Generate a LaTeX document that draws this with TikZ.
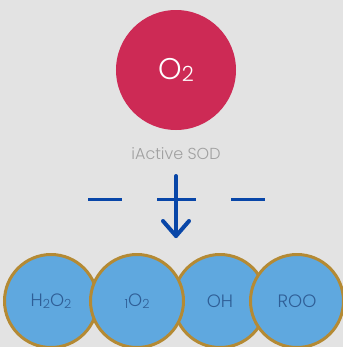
\documentclass[tikz,border=0pt]{standalone}
\usepackage{fontspec}
\setmainfont{Poppins}[UprightFont=* Light]
\usepackage{xcolor}
\usetikzlibrary{arrows.meta}

\definecolor{bggray}{HTML}{E3E3E3}
\definecolor{sodred}{HTML}{CD2A55}
\definecolor{labelgray}{HTML}{A0A0A0}
\definecolor{linkblue}{HTML}{0846A8}
\definecolor{ballblue}{HTML}{5FA8DF}
\definecolor{ballgold}{HTML}{B48A34}
\definecolor{balltext}{HTML}{2F5E96}

\newcommand{\sub}[1]{\raisebox{-0.15ex}{\scalebox{0.7}{#1}}}

\tikzset{
  ball/.style={circle, draw=ballgold, line width=3bp, fill=ballblue,
    minimum size=93bp, inner sep=0pt, text=balltext, font=\fontsize{18}{18}\selectfont},
  bar/.style={linkblue, line width=3bp}
}

\begin{document}
\begin{tikzpicture}[x=1bp, y=-1bp]
\fill [bggray] (0,0) rectangle (343,347);
\useasboundingbox (0,0) rectangle (343,347);

\node (o2) at (176,70) [circle, fill=sodred, minimum size=120bp, text=white,
  font=\fontsize{30}{30}\selectfont] {O\sub{2}};
\node (sod) at (176,154) [text=labelgray, font=\fontsize{16}{16}\selectfont] {iActive SOD};

\draw [bar] (88,199) -- (122,199);
\draw [bar] (157,199) -- (196,199);
\draw [bar] (231,199) -- (265,199);

\coordinate (top) at (176,176);
\coordinate (tip) at (176,236);
\draw [linkblue, line width=4bp, line cap=round, line join=round] (top) -- (tip);
\draw [linkblue, line width=4bp, line cap=round, line join=round] (163,221) -- (tip) -- (189,221);

\node (h2o2) at (51,301) [ball] {H\sub{2}O\sub{2}};
\node (oh) at (220,301) [ball] {OH};
\node (singlet) at (137,301) [ball] {\sub{1}O\sub{2}};
\node (roo) at (297,301) [ball] {ROO};

\end{tikzpicture}
\end{document}
